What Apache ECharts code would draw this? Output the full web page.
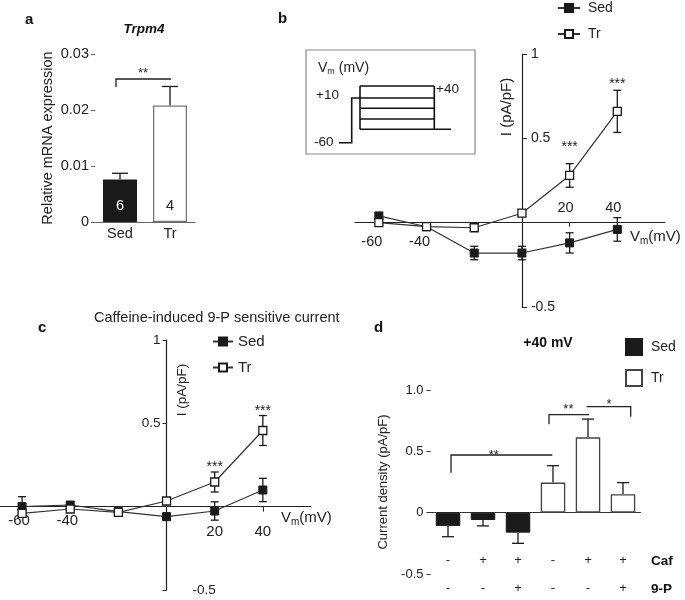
<!DOCTYPE html>
<html><head><meta charset="utf-8">
<script src="https://cdn.jsdelivr.net/npm/echarts@6/dist/echarts.min.js"></script>
<style>html,body{margin:0;padding:0;background:#fff}#c{width:685px;height:600px}</style>
</head><body><div id="c"></div>
<script>
// ---------- Panel a ----------
const aCategories = ['Sed', 'Tr'];
const aValues = [0.0076, 0.0208];
const aErrors = [0.0011, 0.0034];
const aCounts = ['6', '4'];
const aBrackets = [{x1: -0.08, x2: 1.02, y: 0.02554, yL: 0.0241, yR: 0.02554}];
const aStars = [{x: 0.46, y: 0.0266, t: '**'}];

// ---------- Panel b ----------
const bVoltages = [-60, -40, -20, 0, 20, 40];
const bSed = [0.04, -0.024, -0.18, -0.18, -0.12, -0.04];
const bSedErr = [0, 0, 0.04, 0.04, 0.06, 0.07];
const bTr = [0.0, -0.024, -0.03, 0.056, 0.28, 0.66];
const bTrErr = [0, 0, 0.01, 0.02, 0.07, 0.125];
const bStars = [{x: 20, y: 0.449, t: '***'}, {x: 40, y: 0.822, t: '***'}];
const bXLabelsBelow = [-60, -40];
const bXLabelsAbove = [20, 40];
const bYLabels = [-0.5, 0.5, 1];

// ---------- Panel c ----------
const cVoltages = [-60, -40, -20, 0, 20, 40];
const cSed = [0.0, 0.01, -0.03, -0.06, -0.026, 0.1];
const cSedErr = [0.06, 0, 0, 0.02, 0.055, 0.07];
const cTr = [-0.04, -0.014, -0.034, 0.034, 0.148, 0.457];
const cTrErr = [0, 0, 0.01, 0.02, 0.06, 0.09];
const cStars = [{x: 20, y: 0.238, t: '***'}, {x: 40, y: 0.576, t: '***'}];
const cXLabelsNear = [-60, -40];
const cXLabelsFar = [20, 40];
const cYLabelsLeft = [0.5, 1];
const cYLabelsRight = [-0.5];

// ---------- Panel d ----------
const dCategories = ['1', '2', '3', '4', '5', '6'];
const dCaf = ['-', '+', '+', '-', '+', '+'];
const d9P = ['-', '-', '+', '-', '-', '+'];
const dSed = [-0.108, -0.06, -0.163, null, null, null];
const dSedErr = [0.088, 0.048, 0.087, 0, 0, 0];
const dTr = [null, null, null, 0.245, 0.614, 0.15];
const dTrErr = [0, 0, 0, 0.138, 0.149, 0.095];
const dBrackets = [
  {x1: 0.086, x2: 2.98, y: 0.47, yL: 0.326, yR: 0.47},
  {x1: 2.886, x2: 4.03, y: 0.80, yL: 0.72, yR: 0.80},
  {x1: 3.96, x2: 5.22, y: 0.864, yL: 0.864, yR: 0.782}
];
const dStars = [{x: 1.31, y: 0.465, t: '**'}, {x: 3.44, y: 0.845, t: '**'}, {x: 4.6, y: 0.88, t: '*'}];

const F = '"Liberation Sans", Arial, Helvetica, sans-serif';
const INK = '#1a1a1a';

// axis ranges / grid boxes (layout)
const VX = {min: -70, max: 60};
const VY = {min: -0.5, max: 1};
const gB = {left: 355, top: 54, width: 310, height: 253};
const gC = {left: -2, top: 340, width: 313, height: 250};
const gD = {left: 430.5, top: 390, width: 210, height: 184};
// distance from the low end of an axis to its zero
const zeroAt = (len, r) => len * (0 - r.min) / (r.max - r.min);

function catX(api, v) {
  const base = Math.round(v);
  return api.coord([base, 0])[0] + (v - base) * api.size([1, 0])[0];
}
function errSeries(xi, yi, xs, vals, errs, mode, capHalf) {
  const data = xs.map((x, i) => {
    if (vals[i] == null || !errs[i]) return [x, 0, 0];
    if (mode === 'both') return [x, vals[i] - errs[i], vals[i] + errs[i]];
    const s = vals[i] < 0 ? -1 : 1;
    return [x, vals[i], vals[i] + s * errs[i]];
  });
  return {
    type: 'custom', xAxisIndex: xi, yAxisIndex: yi, z: 1, silent: true, data,
    renderItem(params, api) {
      const x = api.value(0), a = api.value(1), b = api.value(2);
      if (a === b) return null;
      const p1 = api.coord([x, a]), p2 = api.coord([x, b]);
      const st = {stroke: INK, lineWidth: 1.3};
      const ch = [
        {type: 'line', shape: {x1: p1[0], y1: p1[1], x2: p2[0], y2: p2[1]}, style: st},
        {type: 'line', shape: {x1: p2[0] - capHalf, y1: p2[1], x2: p2[0] + capHalf, y2: p2[1]}, style: st}
      ];
      if (mode === 'both') ch.push({type: 'line', shape: {x1: p1[0] - capHalf, y1: p1[1], x2: p1[0] + capHalf, y2: p1[1]}, style: st});
      return {type: 'group', children: ch};
    }
  };
}
function bracketSeries(xi, yi, list) {
  return {
    type: 'custom', xAxisIndex: xi, yAxisIndex: yi, silent: true, z: 5,
    data: list.map(b => [0, b.y]),
    renderItem(params, api) {
      const b = list[params.dataIndex];
      const x1 = catX(api, b.x1), x2 = catX(api, b.x2);
      const py = v => api.coord([0, v])[1];
      return {type: 'polyline', shape: {points: [[x1, py(b.yL)], [x1, py(b.y)], [x2, py(b.y)], [x2, py(b.yR)]]},
        style: {stroke: '#222', lineWidth: 1.3, fill: null}};
    }
  };
}
function starSeries(xi, yi, list, isCat, size) {
  return {
    type: 'custom', xAxisIndex: xi, yAxisIndex: yi, silent: true, z: 6,
    data: list.map(s => [isCat ? 0 : s.x, s.y]),
    renderItem(params, api) {
      const s = list[params.dataIndex];
      const x = isCat ? catX(api, s.x) : api.coord([s.x, s.y])[0];
      const y = api.coord([isCat ? 0 : s.x, s.y])[1];
      return {type: 'text', x, y, style: {text: s.t, fontSize: size, fontFamily: F, fill: '#222', align: 'center', verticalAlign: 'middle'}};
    }
  };
}
function pairs(xs, ys) { return xs.map((x, i) => [x, ys[i]]); }
function fmtNum(v) { return String(Math.round(v * 100) / 100); }
const line = (c) => ({onZero: false, lineStyle: {color: c, width: 1.2}});
const G = (g) => Object.assign({outerBoundsMode: 'none', containLabel: false}, g);

const chart = echarts.init(document.getElementById('c'), null, {renderer: 'canvas'});
const option = {
  animation: false,
  backgroundColor: '#fff',
  textStyle: {fontFamily: F, color: '#222'},
  grid: [
    G({left: 95, top: 54, width: 100, height: 168}),
    G(gB), G(gC), G(gD)
  ],
  xAxis: [
    {gridIndex: 0, type: 'category', data: aCategories, axisTick: {show: false}, axisLine: line('#666'), splitLine: {show: false},
      axisLabel: {fontSize: 14.5, color: '#222', margin: 4}},
    {gridIndex: 1, type: 'value', min: VX.min, max: VX.max, interval: 10, position: 'bottom',
      offset: -zeroAt(gB.height, VY), axisLine: line('#222'), splitLine: {show: false},
      axisTick: {show: true, length: 4, customValues: [20], lineStyle: {color: '#222'}},
      axisLabel: {fontSize: 14.5, color: '#222', margin: 12, showMinLabel: false, showMaxLabel: false,
        formatter: v => bXLabelsBelow.includes(v) ? '{p|' + v + '}' : '',
        rich: {p: {fontSize: 14.5, fontFamily: F, color: '#222', padding: [0, 14, 0, 0]}}}},
    {gridIndex: 1, type: 'value', min: VX.min, max: VX.max, interval: 10, position: 'top',
      offset: -(gB.height - zeroAt(gB.height, VY)), axisLine: {show: false, onZero: false}, splitLine: {show: false}, axisTick: {show: false},
      axisLabel: {fontSize: 14.5, color: '#222', margin: 7, showMinLabel: false, showMaxLabel: false,
        formatter: v => bXLabelsAbove.includes(v) ? '{p|' + v + '}' : '',
        rich: {p: {fontSize: 14.5, fontFamily: F, color: '#222', padding: [0, 8, 0, 0]}}}},
    {gridIndex: 2, type: 'value', min: VX.min, max: VX.max, interval: 10, position: 'bottom',
      offset: -zeroAt(gC.height, VY), axisLine: line('#222'), splitLine: {show: false},
      axisTick: {show: true, length: 5, customValues: [-60, -40, 20, 40], lineStyle: {color: '#222'}},
      axisLabel: {fontSize: 15, color: '#222', margin: 7, showMinLabel: false, showMaxLabel: false,
        formatter: v => cXLabelsNear.includes(v) ? '{n|' + v + '}' : (cXLabelsFar.includes(v) ? '{f|' + v + '}' : ''),
        rich: {n: {fontSize: 15, fontFamily: F, color: '#222', padding: [0, 6, 0, 0]}, f: {fontSize: 15, fontFamily: F, color: '#222', padding: [11, 0, 0, 0]}}}},
    {gridIndex: 3, type: 'category', data: dCategories, axisTick: {show: false},
      offset: -zeroAt(gD.height, VY), axisLine: line('#333'), splitLine: {show: false},
      axisLabel: {margin: 34, fontSize: 13, lineHeight: 28, color: '#222', interval: 0,
        formatter: (v, i) => dCaf[i] + '\n' + d9P[i]}}
  ],
  yAxis: [
    {gridIndex: 0, type: 'value', min: 0, max: 0.03, interval: 0.01, axisLine: line('#666'), splitLine: {show: false},
      axisTick: {show: true, length: 4, lineStyle: {color: '#666'}},
      axisLabel: {fontSize: 14.5, color: '#222', margin: 6, formatter: v => fmtNum(v)},
      name: 'Relative mRNA expression', nameLocation: 'middle', nameGap: 40,
      nameTextStyle: {fontSize: 14.5, color: '#222', fontFamily: F}},
    {gridIndex: 1, type: 'value', min: VY.min, max: VY.max, interval: 0.5, position: 'left',
      offset: -zeroAt(gB.width, VX), axisLine: line('#222'), splitLine: {show: false},
      axisTick: {show: true, inside: true, length: 5, lineStyle: {color: '#222'}},
      axisLabel: {inside: true, fontSize: 14, color: '#222', margin: 9,
        formatter: v => bYLabels.includes(v) ? fmtNum(v) : ''}},
    {gridIndex: 2, type: 'value', min: VY.min, max: VY.max, interval: 0.5, position: 'left',
      offset: -zeroAt(gC.width, VX), axisLine: line('#222'), splitLine: {show: false},
      axisTick: {show: true, length: 4, lineStyle: {color: '#222'}},
      axisLabel: {fontSize: 13.5, color: '#222', margin: 6,
        formatter: v => cYLabelsLeft.includes(v) ? fmtNum(v) : ''}},
    {gridIndex: 2, type: 'value', min: VY.min, max: VY.max, interval: 0.5, position: 'right',
      offset: -(gC.width - zeroAt(gC.width, VX)), axisLine: {show: false, onZero: false}, splitLine: {show: false}, axisTick: {show: false},
      axisLabel: {fontSize: 13.5, color: '#222', margin: 26,
        formatter: v => cYLabelsRight.includes(v) ? fmtNum(v) : ''}},
    {gridIndex: 3, type: 'value', min: VY.min, max: VY.max, interval: 0.5, axisLine: line('#333'), splitLine: {show: false},
      axisTick: {show: true, length: 4, lineStyle: {color: '#333'}},
      axisLabel: {fontSize: 13, color: '#222', margin: 7, formatter: v => v === 1 ? '1.0' : fmtNum(v)},
      name: 'Current density (pA/pF)', nameLocation: 'middle', nameGap: 41,
      nameTextStyle: {fontSize: 13, color: '#222', fontFamily: F}}
  ],
  legend: [
    {data: ['Sed_b', 'Tr_b'], orient: 'vertical', left: 557, top: 1, padding: 0, itemWidth: 22, itemHeight: 10, itemGap: 12,
      selectedMode: false, formatter: n => n.split('_')[0], textStyle: {fontSize: 14, color: '#222', fontFamily: F, padding: [0, 0, 0, 3]}},
    {data: ['Sed_c', 'Tr_c'], orient: 'vertical', left: 212, top: 334, padding: 0, itemWidth: 20, itemHeight: 10, itemGap: 11,
      selectedMode: false, formatter: n => n.split('_')[0], textStyle: {fontSize: 15, color: '#222', fontFamily: F}},
    {data: ['Sed_d', 'Tr_d'], orient: 'vertical', left: 625, top: 338, padding: 0, itemWidth: 16, itemHeight: 16, itemGap: 13, icon: 'rect',
      selectedMode: false, formatter: n => n.split('_')[0], textStyle: {fontSize: 14, color: '#222', fontFamily: F, padding: [0, 0, 0, 4]}}
  ],
  series: [
    // a
    {type: 'bar', name: 'a', xAxisIndex: 0, yAxisIndex: 0, barWidth: 34,
      data: aValues.map((v, i) => ({value: v, itemStyle: i === 0 ? {color: INK} : {color: '#fff', borderColor: '#777', borderWidth: 1.3},
        label: {color: i === 0 ? '#fff' : '#222'}})),
      label: {show: true, position: 'insideBottom', distance: 9, fontSize: 14.5, fontFamily: F, formatter: p => aCounts[p.dataIndex]}},
    errSeries(0, 0, [0, 1], aValues, aErrors, 'end', 8),
    bracketSeries(0, 0, aBrackets),
    starSeries(0, 0, aStars, true, 13),
    // b
    errSeries(1, 1, bVoltages, bSed, bSedErr, 'both', 4),
    errSeries(1, 1, bVoltages, bTr, bTrErr, 'both', 4),
    {type: 'line', name: 'Sed_b', xAxisIndex: 1, yAxisIndex: 1, data: pairs(bVoltages, bSed), symbol: 'rect', symbolSize: 8,
      lineStyle: {color: '#333', width: 1.2}, itemStyle: {color: INK, borderColor: INK, borderWidth: 1}, z: 3},
    {type: 'line', name: 'Tr_b', xAxisIndex: 1, yAxisIndex: 1, data: pairs(bVoltages, bTr), symbol: 'rect', symbolSize: 8,
      lineStyle: {color: '#333', width: 1.2}, itemStyle: {color: '#fff', borderColor: INK, borderWidth: 1.3}, z: 4},
    starSeries(1, 1, bStars, false, 14),
    // c
    errSeries(3, 2, cVoltages, cSed, cSedErr, 'both', 4),
    errSeries(3, 2, cVoltages, cTr, cTrErr, 'both', 4),
    {type: 'line', name: 'Sed_c', xAxisIndex: 3, yAxisIndex: 2, data: pairs(cVoltages, cSed), symbol: 'rect', symbolSize: 8,
      lineStyle: {color: '#333', width: 1.2}, itemStyle: {color: INK, borderColor: INK, borderWidth: 1}, z: 3},
    {type: 'line', name: 'Tr_c', xAxisIndex: 3, yAxisIndex: 2, data: pairs(cVoltages, cTr), symbol: 'rect', symbolSize: 8,
      lineStyle: {color: '#333', width: 1.2}, itemStyle: {color: '#fff', borderColor: INK, borderWidth: 1.3}, z: 4},
    starSeries(3, 2, cStars, false, 14),
    // d
    {type: 'bar', name: 'Sed_d', xAxisIndex: 4, yAxisIndex: 4, data: dSed, barWidth: 24.5, barGap: '-100%',
      itemStyle: {color: INK, borderColor: INK, borderWidth: 1}},
    {type: 'bar', name: 'Tr_d', xAxisIndex: 4, yAxisIndex: 4, data: dTr, barWidth: 24.5, barGap: '-100%',
      itemStyle: {color: '#fff', borderColor: '#444', borderWidth: 1.3}},
    errSeries(4, 4, [0, 1, 2, 3, 4, 5], dSed, dSedErr, 'end', 6),
    errSeries(4, 4, [0, 1, 2, 3, 4, 5], dTr, dTrErr, 'end', 6),
    bracketSeries(4, 4, dBrackets),
    starSeries(4, 4, dStars, true, 13)
  ],
  graphic: [
    {type: 'text', left: 25, top: 12, style: {text: 'a', fontSize: 15, fontWeight: 'bold', fontFamily: F, fill: '#111'}},
    {type: 'text', left: 278, top: 11, style: {text: 'b', fontSize: 15, fontWeight: 'bold', fontFamily: F, fill: '#111'}},
    {type: 'text', left: 38, top: 320, style: {text: 'c', fontSize: 15, fontWeight: 'bold', fontFamily: F, fill: '#111'}},
    {type: 'text', left: 374, top: 320, style: {text: 'd', fontSize: 15, fontWeight: 'bold', fontFamily: F, fill: '#111'}},
    {type: 'text', x: 144, y: 29, style: {text: 'Trpm4', fontSize: 13.5, fontWeight: 'bold', fontStyle: 'italic', fontFamily: F, fill: '#111', align: 'center', verticalAlign: 'middle'}},
    {type: 'text', x: 94, y: 318, style: {text: 'Caffeine-induced 9-P sensitive current', fontSize: 14.5, fontFamily: F, fill: '#222', verticalAlign: 'middle'}},
    {type: 'text', x: 548, y: 343, style: {text: '+40 mV', fontSize: 14, fontWeight: 'bold', fontFamily: F, fill: '#111', align: 'center', verticalAlign: 'middle'}},
    {type: 'text', x: 651, y: 561, style: {text: 'Caf', fontSize: 13.5, fontWeight: 'bold', fontFamily: F, fill: '#111', verticalAlign: 'middle'}},
    {type: 'text', x: 651, y: 589, style: {text: '9-P', fontSize: 13.5, fontWeight: 'bold', fontFamily: F, fill: '#111', verticalAlign: 'middle'}},
    {type: 'text', x: 507, y: 107, rotation: Math.PI / 2, style: {text: 'I (pA/pF)', fontSize: 15, fontFamily: F, fill: '#222', align: 'center', verticalAlign: 'middle'}},
    {type: 'text', x: 182, y: 390, rotation: Math.PI / 2, style: {text: 'I (pA/pF)', fontSize: 13.5, fontFamily: F, fill: '#222', align: 'center', verticalAlign: 'middle'}},
    {type: 'text', x: 630, y: 237, style: {text: 'V{s|m}(mV)', fontSize: 15, fontFamily: F, fill: '#222', verticalAlign: 'middle',
      rich: {s: {fontSize: 10, fontFamily: F, fill: '#222', padding: [8, 0, 0, 0]}}}},
    {type: 'text', x: 281, y: 518, style: {text: 'V{s|m}(mV)', fontSize: 15, fontFamily: F, fill: '#222', verticalAlign: 'middle',
      rich: {s: {fontSize: 10, fontFamily: F, fill: '#222', padding: [8, 0, 0, 0]}}}},
    // inset: voltage protocol schematic
    {type: 'rect', shape: {x: 306, y: 50, width: 169, height: 104}, style: {fill: null, stroke: '#888', lineWidth: 1.2}},
    {type: 'text', x: 318, y: 68, style: {text: 'V{s|m} (mV)', fontSize: 14, fontFamily: F, fill: '#222', verticalAlign: 'middle',
      rich: {s: {fontSize: 9, fontFamily: F, fill: '#222', padding: [8, 0, 0, 0]}}}},
    {type: 'text', x: 316, y: 95, style: {text: '+10', fontSize: 13.5, fontFamily: F, fill: '#222', verticalAlign: 'middle'}},
    {type: 'text', x: 436, y: 89, style: {text: '+40', fontSize: 13.5, fontFamily: F, fill: '#222', verticalAlign: 'middle'}},
    {type: 'text', x: 314, y: 142, style: {text: '-60', fontSize: 13.5, fontFamily: F, fill: '#222', verticalAlign: 'middle'}},
    {type: 'polyline', shape: {points: [[339, 142.7], [351.7, 142.7], [351.7, 98], [434.3, 98]]}, style: {fill: null, stroke: '#111', lineWidth: 1.6}},
    {type: 'line', shape: {x1: 360, y1: 86, x2: 434.3, y2: 86}, style: {stroke: '#111', lineWidth: 1.6}},
    {type: 'line', shape: {x1: 360, y1: 108.3, x2: 434.3, y2: 108.3}, style: {stroke: '#111', lineWidth: 1.6}},
    {type: 'line', shape: {x1: 360, y1: 119, x2: 434.3, y2: 119}, style: {stroke: '#111', lineWidth: 1.6}},
    {type: 'line', shape: {x1: 360, y1: 129.3, x2: 451, y2: 129.3}, style: {stroke: '#111', lineWidth: 1.6}},
    {type: 'line', shape: {x1: 360, y1: 86, x2: 360, y2: 129.3}, style: {stroke: '#111', lineWidth: 1.6}},
    {type: 'line', shape: {x1: 434.3, y1: 86, x2: 434.3, y2: 129.3}, style: {stroke: '#111', lineWidth: 1.6}}
  ]
};
chart.setOption(option);
</script></body></html>
